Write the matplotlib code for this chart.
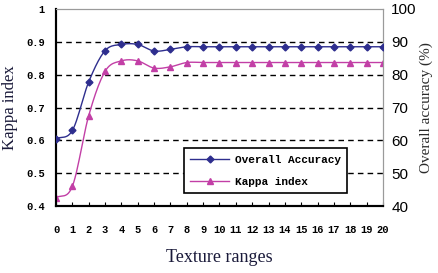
import numpy as np
import matplotlib.pyplot as plt

texture_ranges = list(range(21))
overall_accuracy = [60.5, 63.0, 77.8, 87.3, 89.2, 89.2, 87.2, 87.7, 88.5, 88.5, 88.5,
                    88.5, 88.5, 88.5, 88.5, 88.5, 88.5, 88.5, 88.5, 88.5, 88.5]
kappa_index = [0.425, 0.46, 0.675, 0.81, 0.842, 0.842, 0.82, 0.824, 0.837, 0.837, 0.837,
               0.837, 0.837, 0.837, 0.837, 0.837, 0.837, 0.837, 0.837, 0.837, 0.837]
left_ticks = [0.4, 0.5, 0.6, 0.7, 0.8, 0.9, 1.0]
right_ticks = [40, 50, 60, 70, 80, 90, 100]

BLUE = "#2e2e8e"
PINK = "#c23fa6"
MONO = "Liberation Mono"


def smooth(x, y, n=12):
    # Catmull-Rom curve through the points, like Excel's smoothed line
    x = np.asarray(x, float)
    y = np.asarray(y, float)
    px = np.concatenate([[2 * x[0] - x[1]], x, [2 * x[-1] - x[-2]]])
    py = np.concatenate([[2 * y[0] - y[1]], y, [2 * y[-1] - y[-2]]])
    xs, ys = [], []
    t = np.linspace(0, 1, n, endpoint=False)
    for i in range(1, len(px) - 2):
        for p, out in ((px, xs), (py, ys)):
            p0, p1, p2, p3 = p[i - 1], p[i], p[i + 1], p[i + 2]
            out.extend(0.5 * (2 * p1 + (-p0 + p2) * t
                              + (2 * p0 - 5 * p1 + 4 * p2 - p3) * t ** 2
                              + (-p0 + 3 * p1 - 3 * p2 + p3) * t ** 3))
    xs.append(x[-1])
    ys.append(y[-1])
    return xs, ys


fig = plt.figure(figsize=(4.39, 2.73), dpi=100)
ax = fig.add_axes([56 / 439, 1 - 206 / 273, (383 - 56) / 439, (206 - 9) / 273])
ax2 = ax.twinx()

ax.set_xlim(0, 20)
ax.set_ylim(0.4, 1.0)
ax2.set_ylim(40, 100)

for v in left_ticks[1:-1]:
    ax.axhline(v, color="black", lw=1.0, ls=(0, (4, 3)), zorder=1)

# kappa on left axis
kx, ky = smooth(texture_ranges, kappa_index)
ax.plot(kx, ky, color=PINK, lw=1.0, zorder=3)
ax.plot(texture_ranges, kappa_index, ls="none", marker="^", ms=5, color=PINK, zorder=4)

# overall accuracy on right axis
ox, oy = smooth(texture_ranges, overall_accuracy)
ax2.plot(ox, oy, color=BLUE, lw=1.0, zorder=3)
ax2.plot(texture_ranges, overall_accuracy, ls="none", marker="D", ms=3.5, color=BLUE, zorder=4)

ax.set_xticks(texture_ranges)
ax.set_xticklabels([str(v) for v in texture_ranges], family=MONO, weight="bold", fontsize=7.5)
ax.tick_params(axis="x", direction="in", length=3, pad=14)
ax.set_yticks(left_ticks)
ax.set_yticklabels(["1" if v == 1.0 else f"{v:.1f}" for v in left_ticks],
                   family=MONO, weight="bold", fontsize=7.5)
ax.tick_params(axis="y", length=0, pad=8)

ax2.set_yticks(right_ticks)
ax2.set_yticklabels([str(v) for v in right_ticks], family="Liberation Sans", fontsize=11)
ax2.tick_params(axis="y", length=0, pad=6)

for a in (ax, ax2):
    a.spines["top"].set_color("#9a9a9a")
    a.spines["right"].set_color("#9a9a9a")
    a.spines["left"].set_color("black")
    a.spines["bottom"].set_color("black")
    a.spines["left"].set_linewidth(1.5)
    a.spines["bottom"].set_linewidth(1.5)

ax.set_ylabel("Kappa index", family="Liberation Serif", fontsize=12, color="#1a1a3a", labelpad=6)
ax2.set_ylabel("Overall accuracy (%)", family="Liberation Serif", fontsize=11, color="#2a2a2a", labelpad=2)
ax.set_xlabel("Texture ranges", family="Liberation Serif", fontsize=13, color="#1a1a3a", labelpad=10)

h1 = plt.Line2D([], [], color=BLUE, lw=1.0, marker="D", ms=3.5)
h2 = plt.Line2D([], [], color=PINK, lw=1.0, marker="^", ms=5)
leg = ax2.legend([h1, h2], ["Overall Accuracy", "Kappa index"], loc="lower right",
                 bbox_to_anchor=(353 / 439, 1 - 199 / 273), bbox_transform=fig.transFigure,
                 prop={"family": MONO, "weight": "bold", "size": 8},
                 frameon=True, fancybox=False, edgecolor="black", framealpha=1,
                 borderpad=0.6, labelspacing=1.1, handlelength=3.5, handletextpad=0.5)
leg.get_frame().set_linewidth(1.2)
leg.set_zorder(10)

fig.savefig("out.png", dpi=100)
